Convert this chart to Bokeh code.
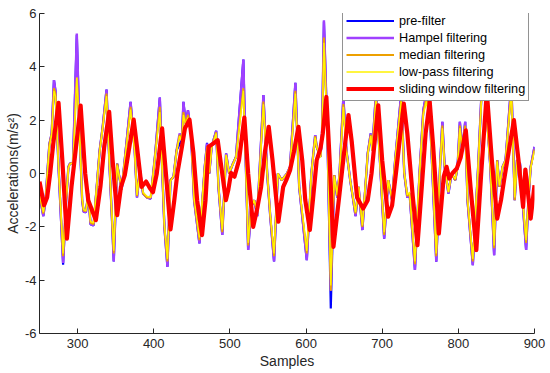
from bokeh.plotting import figure
from bokeh.models import Range1d, FixedTicker, Legend, LegendItem
from bokeh.embed import file_html
from bokeh.resources import INLINE

# ---- data ----
samples = [250, 255, 258, 261, 263, 266, 269, 271, 275, 281,
           285, 288, 290, 294, 299, 302, 306, 308, 311, 314,
           317, 321, 329, 333, 338, 342, 345, 347.5, 352, 354,
           358, 361, 369.6, 375, 378, 382, 386, 391, 396, 402,
           408, 411, 414, 418, 422, 426, 430, 434, 437, 439,
           442, 445, 449, 453, 460, 467, 470, 473, 476, 482,
           485, 490, 495, 499, 504, 508, 517.7, 521, 524, 528,
           532, 536, 544, 549, 553, 558, 563, 568, 575, 579,
           586, 591, 601, 607, 612, 614, 619, 621, 623.5, 628,
           632.5, 637, 641, 644, 649, 653, 658, 662, 665, 669,
           674, 681, 685, 687, 692, 702.6, 708, 713, 717, 725,
           729, 733, 736, 743, 749, 754, 758, 763, 771, 776,
           779, 782, 787, 791, 796, 799, 802, 805, 809, 812,
           819, 826, 830, 834, 842, 847, 851, 854, 858, 862,
           869.6, 874, 877, 881, 883, 889, 892, 895, 900]

hampel = [-0.8, -1.6, -1.0, 0.3, 1.1, 1.5, 3.5, 3.1, 0.25, -3.35,
          -1.0, 0.25, 0.37, 0.4, 5.25, 2.1, -1.0, -1.44, -1.45, -0.75,
          -1.9, -1.95, 0.87, 1.75, 3.15, 0.25, -1.6, -3.3, 0.37, 0.0,
          -0.6, 0.25, 2.69, 0.87, -0.9, 0.12, -0.75, -0.9, -0.94, 0.75,
          2.85, 0.25, -2.0, -3.5, -0.25, -0.12, 0.87, 1.5, 1.25, 2.69,
          1.87, 2.37, 1.5, -1.0, -2.62, 0.25, 1.12, 0.0, 1.0, 1.6,
          -0.5, -2.3, 0.75, 0.0, 0.37, 0.62, 4.27, 0.25, -2.87, -1.25,
          -1.0, -1.6, 2.94, 0.0, -1.6, -3.3, 0.0, -0.25, 0.0, 0.25,
          3.4, -0.5, -3.25, 0.0, 1.44, 1.0, 0.62, 1.5, 5.75, 1.5,
          -4.4, -0.06, -0.9, 0.0, 2.87, 0.87, -0.25, -1.0, -1.6, -0.5,
          -2.12, 0.75, 1.5, 0.87, 3.12, -2.44, -0.25, -1.0, 0.5, 3.0,
          0.0, -0.9, -0.75, -3.62, 0.0, 2.37, 3.0, 2.0, -3.31, 0.25,
          1.94, 0.25, -0.75, 0.0, -0.25, 0.25, 1.94, 0.87, 1.94, -1.0,
          -3.44, 0.25, 2.75, 3.75, 0.25, -3.06, 0.5, -0.5, 0.25, 0.5,
          3.4, -1.0, 0.5, 0.37, -0.5, -2.87, -1.0, 0.25, 1.0]

prefilter = [-0.8, -1.6, -1.0, 0.3, 1.1, 1.5, 3.5, 3.1, 0.25, -3.42,
             -1.0, 0.25, 0.37, 0.4, 5.2, 2.1, -1.0, -1.44, -1.45, -0.75,
             -1.9, -1.95, 0.87, 1.75, 3.15, 0.25, -1.6, -3.3, 0.37, 0.0,
             -0.6, 0.25, 2.69, 0.87, -0.9, 0.12, -0.75, -0.9, -0.94, 0.75,
             2.85, 0.25, -2.0, -3.5, -0.25, -0.12, 0.87, 1.1, 1.25, 2.69,
             1.87, 2.37, 1.5, -1.0, -2.62, 0.25, 1.15, 0.0, 1.0, 1.6,
             -0.5, -2.3, 0.75, 0.0, 0.37, 0.62, 4.27, 0.25, -2.87, -1.25,
             -1.0, -1.6, 2.94, 0.0, -1.6, -3.3, 0.0, -0.25, 0.0, 0.25,
             3.4, -0.5, -3.25, 0.0, 1.44, 1.0, 0.62, 1.5, 5.7, 1.5,
             -5.06, -0.06, -0.9, 0.0, 2.87, 0.87, -0.25, -1.0, -1.6, -0.5,
             -2.12, 0.75, 1.5, 0.87, 3.12, -2.44, -0.25, -1.0, 0.5, 3.0,
             0.0, -0.9, -0.75, -3.62, 0.0, 2.37, 3.0, 2.0, -3.31, 0.25,
             1.94, 0.25, -0.75, 0.0, -0.25, 0.25, 1.94, 0.87, 1.94, -1.0,
             -3.44, 0.25, 2.75, 3.75, 0.25, -3.06, 0.5, -0.5, 0.25, 0.5,
             3.4, -1.0, 0.5, 0.37, -0.5, -2.87, -1.0, 0.25, 1.0]

median = [-0.8, -1.5, -1.0, 0.3, 1.1, 1.5, 3.2, 3.0, 0.25, -3.1,
          -1.0, 0.25, 0.37, 0.4, 3.6, 2.0, -1.0, -1.4, -1.4, -0.75,
          -1.85, -1.9, 0.87, 1.75, 3.0, 0.25, -1.6, -3.0, 0.37, 0.0,
          -0.6, 0.25, 2.5, 0.87, -0.85, 0.12, -0.75, -0.9, -0.9, 0.75,
          2.5, 0.25, -2.0, -3.3, -0.25, -0.12, 0.87, 1.45, 1.25, 2.3,
          1.87, 2.2, 1.5, -1.0, -2.5, 0.25, 1.0, 0.0, 1.0, 1.55,
          -0.5, -2.2, 0.7, 0.0, 0.37, 0.62, 3.2, 0.25, -2.7, -1.25,
          -1.0, -1.55, 2.7, 0.0, -1.6, -3.1, 0.0, -0.25, 0.0, 0.25,
          3.1, -0.5, -3.0, 0.0, 1.4, 1.0, 0.62, 1.5, 5.1, 1.5,
          -4.4, -0.06, -0.85, 0.0, 2.6, 0.87, -0.25, -1.0, -1.5, -0.5,
          -2.0, 0.75, 1.45, 0.87, 2.9, -2.3, -0.25, -1.0, 0.5, 2.8,
          0.0, -0.85, -0.75, -3.4, 0.0, 2.3, 2.8, 2.0, -3.1, 0.25,
          1.8, 0.25, -0.7, 0.0, -0.25, 0.25, 1.8, 0.87, 1.8, -1.0,
          -3.3, 0.25, 2.7, 3.5, 0.25, -2.8, 0.5, -0.5, 0.25, 0.5,
          3.2, -1.0, 0.5, 0.37, -0.5, -2.6, -1.0, 0.25, 0.9]

lowpass = [-0.75, -1.45, -1.0, 0.25, 1.0, 1.45, 3.1, 2.9, 0.3, -3.0,
           -1.0, 0.2, 0.35, 0.4, 3.6, 1.9, -0.9, -1.35, -1.4, -0.8,
           -1.8, -1.85, 0.8, 1.7, 2.9, 0.3, -1.5, -2.9, 0.3, 0.0,
           -0.55, 0.25, 2.4, 0.85, -0.8, 0.1, -0.7, -0.85, -0.9, 0.7,
           2.3, 0.3, -1.9, -3.2, -0.3, -0.1, 0.8, 1.4, 1.2, 2.2,
           1.8, 2.1, 1.45, -0.9, -2.4, 0.2, 1.0, 0.05, 0.95, 1.5,
           -0.45, -2.1, 0.7, 0.05, 0.35, 0.6, 3.1, 0.3, -2.6, -1.2,
           -1.0, -1.5, 2.6, 0.05, -1.5, -3.0, 0.0, -0.25, 0.0, 0.25,
           3.0, -0.45, -2.9, 0.0, 1.35, 1.0, 0.6, 1.45, 4.9, 1.4,
           -4.2, -0.1, -0.8, 0.0, 2.5, 0.85, -0.25, -0.95, -1.45, -0.5,
           -1.95, 0.7, 1.4, 0.85, 2.8, -2.2, -0.25, -0.95, 0.5, 2.7,
           0.05, -0.8, -0.7, -3.3, 0.0, 2.2, 2.7, 1.95, -3.0, 0.25,
           1.7, 0.25, -0.7, 0.0, -0.2, 0.25, 1.7, 0.85, 1.7, -0.9,
           -3.2, 0.25, 2.6, 3.4, 0.25, -2.7, 0.45, -0.45, 0.25, 0.5,
           3.1, -0.9, 0.45, 0.35, -0.45, -2.5, -0.95, 0.2, 0.85]

sw_x = [250, 256, 260, 264, 268, 275, 280, 286, 292, 296,
        304, 310, 314, 318, 324, 330, 335, 341.5, 346, 352,
        357, 362, 368, 373.7, 378, 384, 390, 395, 399, 404,
        411, 416, 422, 427, 431, 437, 441, 447, 452, 457,
        463.4, 468, 472, 478, 484, 489, 494.7, 498, 501.6, 506,
        512, 519, 524, 530.6, 536, 541, 546, 551, 556, 563.7,
        570, 574, 579, 584, 590, 595, 599, 605, 609, 614,
        619, 622, 626.7, 631, 636, 644, 650, 655.7, 660, 667,
        675, 681, 686, 694.8, 700, 707.7, 713, 718, 728.4, 733,
        740, 746.3, 752, 757, 762.4, 767, 774.4, 780.8, 784.5, 788,
        792, 798, 803, 809.8, 816, 823.6, 830, 837.4, 844, 851,
        856, 860, 866, 873, 879, 885, 888, 891, 895, 900]

sw_y = [-0.31, -1.19, -0.9, 0.0, 1.1, 2.65, 0.5, -2.44, -0.5, 0.5,
        2.55, 0.0, -1.0, -1.3, -1.75, -0.5, 1.0, 2.31, 0.5, -1.56,
        -0.5, -0.06, 1.0, 2.02, 1.0, -0.5, -0.3, -0.55, -0.7, 0.0,
        1.69, 0.0, -2.1, -1.0, 0.0, 1.0, 1.7, 2.02, 0.8, -1.0,
        -2.31, -1.0, 1.0, 1.12, 1.25, 0.2, -1.0, -0.6, 0.02, -0.12,
        0.5, 2.1, 0.0, -2.0, -1.3, -0.5, 0.8, 1.75, 0.5, -1.81,
        -0.5, -0.25, 0.12, 0.8, 1.75, 0.5, -1.0, -2.12, -1.0, 0.5,
        0.94, 1.5, 2.87, 0.5, -2.75, -0.75, 0.8, 2.19, 1.2, -0.9,
        -1.31, -1.0, 0.0, 2.56, 0.5, -1.62, -1.2, 0.0, 2.62, 1.5,
        -0.8, -2.69, -0.5, 1.5, 2.69, 1.0, -2.25, -0.12, 0.25, -0.19,
        0.0, 0.19, 0.6, 1.62, -0.5, -2.87, 0.0, 3.06, 0.5, -1.69,
        -1.0, -0.25, 0.8, 2.0, 0.5, -1.25, 0.15, -0.6, -1.69, -0.44]

x_ticks = [300, 400, 500, 600, 700, 800, 900]
y_ticks = [-6, -4, -2, 0, 2, 4, 6]

AX = "#262626"

p = figure(width=550, height=372, output_backend="svg", toolbar_location=None,
           x_range=Range1d(250, 900), y_range=Range1d(-6, 6),
           min_border_left=39, min_border_right=16, min_border_top=13,
           min_border_bottom=39, background_fill_color="white")
p.outline_line_color = None
p.grid.visible = False

r1 = p.line(samples, prefilter, line_color="#0000FF", line_width=2.2)
r2 = p.line(samples, hampel, line_color="#A040FF", line_width=2.4)
r3 = p.line(samples, median, line_color="#EDA000", line_width=1.9)
r4 = p.line(samples, lowpass, line_color="#FFF200", line_width=1.4)
r5 = p.line(sw_x, sw_y, line_color="#FF0000", line_width=4.2, line_join="round")

for ax in (p.xaxis[0], p.yaxis[0]):
    ax.axis_line_color = AX
    ax.major_tick_line_color = AX
    ax.major_tick_in = 5
    ax.major_tick_out = 0
    ax.minor_tick_line_color = None
    ax.major_label_text_color = AX
    ax.major_label_text_font = "Liberation Sans"
    ax.major_label_text_font_size = "13px"
    ax.axis_label_text_font = "Liberation Sans"
    ax.axis_label_text_font_size = "14px"
    ax.axis_label_text_font_style = "normal"
    ax.axis_label_text_color = AX

p.xaxis.ticker = FixedTicker(ticks=x_ticks)
p.yaxis.ticker = FixedTicker(ticks=y_ticks)
p.yaxis.major_label_overrides = {t: str(t) for t in y_ticks}
p.xaxis.major_label_overrides = {t: str(t) for t in x_ticks}
p.xaxis.axis_label = "Samples"
p.yaxis.axis_label = "Accelerations(m/s²)"
p.xaxis.major_label_standoff = 5
p.xaxis.axis_label_standoff = 2
p.yaxis.major_label_standoff = 3
p.yaxis.axis_label_standoff = 1

legend = Legend(items=[
    LegendItem(label="pre-filter", renderers=[r1]),
    LegendItem(label="Hampel filtering", renderers=[r2]),
    LegendItem(label="median filtering", renderers=[r3]),
    LegendItem(label="low-pass filtering", renderers=[r4]),
    LegendItem(label="sliding window filtering", renderers=[r5]),
], location=(303, 232))
legend.padding = 3
legend.spacing = 0
legend.margin = 0
legend.glyph_width = 48
legend.glyph_height = 17
legend.label_height = 17
legend.label_standoff = 5
legend.label_text_font = "Liberation Sans"
legend.label_text_font_size = "12.7px"
legend.label_text_color = "#000000"
legend.border_line_color = AX
legend.border_line_width = 1
legend.background_fill_color = "white"
legend.background_fill_alpha = 1.0
p.add_layout(legend)

open("out.html", "w").write(file_html(p, INLINE))
